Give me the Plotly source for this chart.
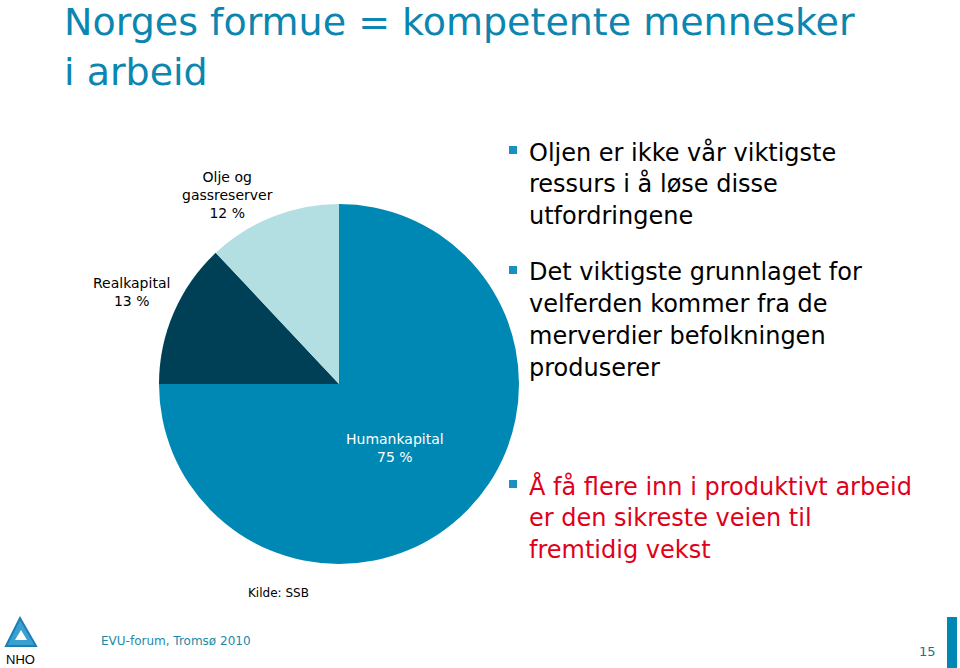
import plotly.graph_objects as go

W, H = 960, 668

# Data
categories = ["Humankapital", "Realkapital", "Olje og<br>gassreserver"]
shares = [75, 13, 12]
slice_colors = ["#0088B5", "#004057", "#B3DFE3"]

title_lines = ["Norges formue = kompetente mennesker", "i arbeid"]
bullets = [
    (["Oljen er ikke vår viktigste", "ressurs i å løse disse", "utfordringene"], "#000000", 152),
    (["Det viktigste grunnlaget for", "velferden kommer fra de", "merverdier befolkningen", "produserer"], "#000000", 272),
    (["Å få flere inn i produktivt arbeid", "er den sikreste veien til", "fremtidig vekst"], "#E0001A", 486),
]
source = "Kilde: SSB"
footer = "EVU-forum, Tromsø 2010"
page_no = "15"

FONT = "DejaVu Sans"


def px(x):
    return x / W


def py(y):
    return 1 - y / H


cx, cy, r = 339, 384, 180

fig = go.Figure(go.Pie(
    labels=categories,
    values=shares,
    marker=dict(colors=slice_colors, line=dict(width=0)),
    sort=False,
    direction="clockwise",
    rotation=0,
    textinfo="none",
    hoverinfo="label+percent",
    showlegend=False,
    domain=dict(x=[px(cx - r), px(cx + r)], y=[py(cy + r), py(cy - r)]),
))

ann = []
# Slice labels (positions chosen like the reference)
label_pos = [(395, 448, "white"), (131, 292, "#000000"), (227, 195, "#000000")]
for cat, val, (lx, ly, col) in zip(categories, shares, label_pos):
    ann.append(dict(x=px(lx), y=py(ly), xref="paper", yref="paper",
                    text=f"{cat}<br>{val} %", showarrow=False,
                    font=dict(family=FONT, size=14, color=col),
                    xanchor="center", yanchor="middle", align="center"))

# Title
for i, line in enumerate(title_lines):
    ann.append(dict(x=px(62), y=py(22 + 50 * i), xref="paper", yref="paper",
                    text=line, showarrow=False,
                    font=dict(family=FONT, size=38, color="#0B86B0"),
                    xanchor="left", yanchor="middle"))

shapes = []
# Bullets
for lines, col, y0 in bullets:
    shapes.append(dict(type="rect", xref="paper", yref="paper",
                       x0=px(509), x1=px(517), y0=py(y0 - 6), y1=py(y0 + 2),
                       fillcolor="#1A8FC0", line=dict(width=0)))
    for j, line in enumerate(lines):
        ann.append(dict(x=px(527), y=py(y0 + 32 * j), xref="paper", yref="paper",
                        text=line, showarrow=False,
                        font=dict(family=FONT, size=24, color=col),
                        xanchor="left", yanchor="middle"))

# Source
ann.append(dict(x=px(246), y=py(593), xref="paper", yref="paper", text=source,
                showarrow=False, font=dict(family=FONT, size=12, color="#000000"),
                xanchor="left", yanchor="middle"))
# Footer
ann.append(dict(x=px(99), y=py(641), xref="paper", yref="paper", text=footer,
                showarrow=False, font=dict(family=FONT, size=12, color="#1B8AA8"),
                xanchor="left", yanchor="middle"))
ann.append(dict(x=px(938), y=py(651), xref="paper", yref="paper", text=page_no,
                showarrow=False, font=dict(family=FONT, size=13, color="#1B6F8A"),
                xanchor="right", yanchor="middle"))
shapes.append(dict(type="rect", xref="paper", yref="paper",
                   x0=px(947), x1=px(957), y0=0, y1=py(617),
                   fillcolor="#0088B5", line=dict(width=0)))

# NHO logo (approximation)
shapes.append(dict(type="path", xref="paper", yref="paper",
                   path=f"M {px(6)} {py(646)} L {px(20)} {py(618)} L {px(36)} {py(646)} Z",
                   fillcolor="#3AA0D0", line=dict(color="#1B7FB5", width=2)))
shapes.append(dict(type="path", xref="paper", yref="paper",
                   path=f"M {px(15)} {py(640)} L {px(21)} {py(630)} L {px(27)} {py(640)} Z",
                   fillcolor="white", line=dict(width=0)))
ann.append(dict(x=px(20), y=py(659), xref="paper", yref="paper", text="NHO",
                showarrow=False, font=dict(family="Liberation Sans", size=13, color="#000000"),
                xanchor="center", yanchor="middle"))

fig.update_layout(
    width=W, height=H,
    margin=dict(l=0, r=0, t=0, b=0),
    paper_bgcolor="white", plot_bgcolor="white",
    annotations=ann, shapes=shapes,
)

fig.write_html("out.html")
